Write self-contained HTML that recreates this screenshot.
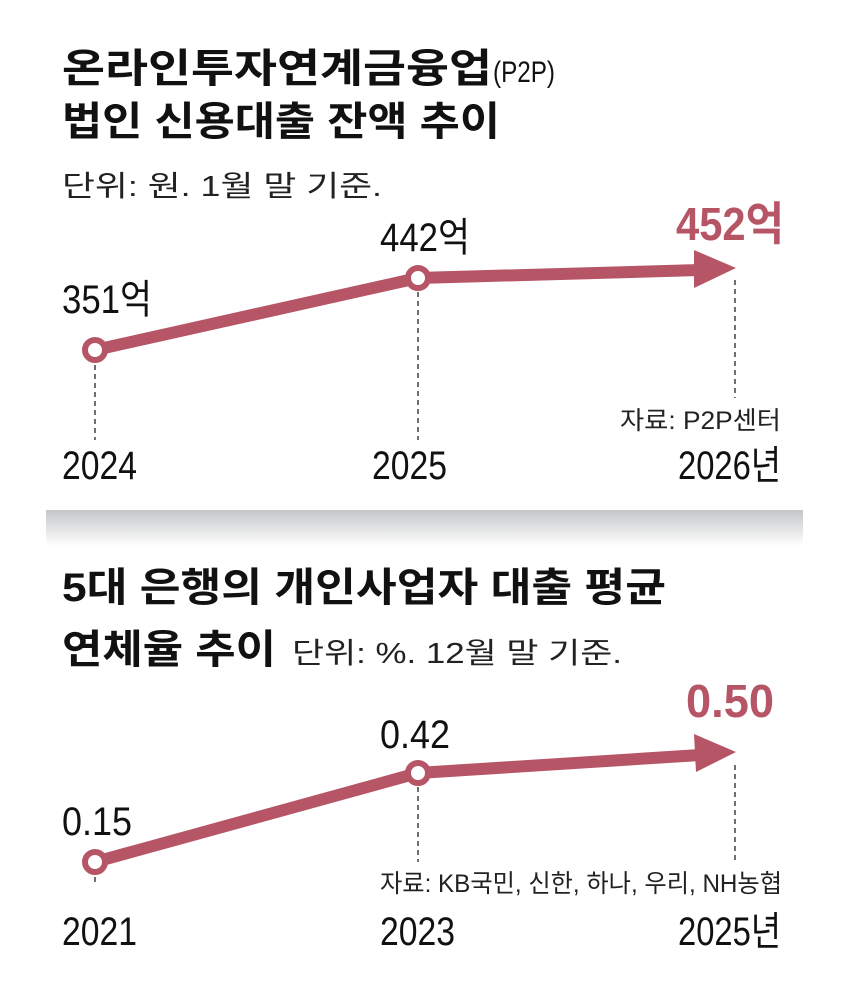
<!DOCTYPE html>
<html><head><meta charset="utf-8"><style>
body{margin:0;background:#fff}
svg text{font-family:"Liberation Sans","Noto Sans CJK KR",sans-serif}
</style></head><body>
<svg width="849" height="994" viewBox="0 0 849 994" xmlns="http://www.w3.org/2000/svg">
<defs><linearGradient id="g" x1="0" y1="0" x2="0" y2="1"><stop offset="0" stop-color="#c4c6c8"/><stop offset="1" stop-color="#fff"/></linearGradient></defs>
<text x="62" y="82" font-size="40" font-weight="bold" fill="#111" textLength="430" lengthAdjust="spacingAndGlyphs">온라인투자연계금융업</text>
<text x="493" y="82" font-size="30" fill="#111" textLength="62" lengthAdjust="spacingAndGlyphs">(P2P)</text>
<text x="62" y="135" font-size="40" font-weight="bold" fill="#111" textLength="438" lengthAdjust="spacingAndGlyphs">법인 신용대출 잔액 추이</text>
<text x="62" y="196" font-size="29" fill="#222" textLength="320" lengthAdjust="spacingAndGlyphs">단위: 원. 1월 말 기준.</text>
<g stroke="#222" stroke-width="1.3" stroke-dasharray="5,4">
<line x1="95" y1="365" x2="95" y2="440"/><line x1="418" y1="292" x2="418" y2="440"/><line x1="735" y1="280" x2="735" y2="398"/>
<line x1="95" y1="877" x2="95" y2="886"/><line x1="418" y1="787" x2="418" y2="862"/><line x1="735" y1="765" x2="735" y2="862"/>
</g>
<g fill="none" stroke="#b65566" stroke-width="12">
<polyline points="95,350 418,278 700,270"/>
<polyline points="95,862 418,773 700,755"/>
</g>
<g fill="#b65566"><polygon points="694,250 736,268 694,288"/><polygon points="694,734 736,752 696,772"/></g>
<g fill="#fff" stroke="#b65566" stroke-width="6">
<circle cx="95" cy="350" r="10"/><circle cx="418" cy="278" r="10"/>
<circle cx="95" cy="862" r="10"/><circle cx="418" cy="773" r="10"/></g>
<g font-size="40" fill="#111">
<text x="62" y="313" textLength="90" lengthAdjust="spacingAndGlyphs">351억</text>
<text x="380" y="251" textLength="90" lengthAdjust="spacingAndGlyphs">442억</text>
<text x="62" y="479" textLength="75" lengthAdjust="spacingAndGlyphs">2024</text>
<text x="372" y="479" textLength="75" lengthAdjust="spacingAndGlyphs">2025</text>
<text x="678" y="479" textLength="103" lengthAdjust="spacingAndGlyphs">2026년</text>
<text x="62" y="835" textLength="70" lengthAdjust="spacingAndGlyphs">0.15</text>
<text x="380" y="748" textLength="70" lengthAdjust="spacingAndGlyphs">0.42</text>
<text x="62" y="945" textLength="75" lengthAdjust="spacingAndGlyphs">2021</text>
<text x="380" y="945" textLength="75" lengthAdjust="spacingAndGlyphs">2023</text>
<text x="678" y="945" textLength="103" lengthAdjust="spacingAndGlyphs">2025년</text>
</g>
<text x="676" y="240" font-size="46" font-weight="bold" fill="#b65566" textLength="108" lengthAdjust="spacingAndGlyphs">452억</text>
<text x="686" y="717" font-size="46" font-weight="bold" fill="#b65566" textLength="88" lengthAdjust="spacingAndGlyphs">0.50</text>
<text x="620" y="429" font-size="25" fill="#222" textLength="161" lengthAdjust="spacingAndGlyphs">자료: P2P센터</text>
<text x="380" y="892" font-size="25" fill="#222" textLength="402" lengthAdjust="spacingAndGlyphs">자료: KB국민, 신한, 하나, 우리, NH농협</text>
<rect x="46" y="510" width="757" height="36" fill="url(#g)"/>
<text x="62" y="601" font-size="40" font-weight="bold" fill="#111" textLength="604" lengthAdjust="spacingAndGlyphs">5대 은행의 개인사업자 대출 평균</text>
<text x="62" y="663" font-size="40" font-weight="bold" fill="#111" textLength="214" lengthAdjust="spacingAndGlyphs">연체율 추이</text>
<text x="292" y="663" font-size="29" fill="#222" textLength="330" lengthAdjust="spacingAndGlyphs">단위: %. 12월 말 기준.</text>
</svg>
</body></html>
